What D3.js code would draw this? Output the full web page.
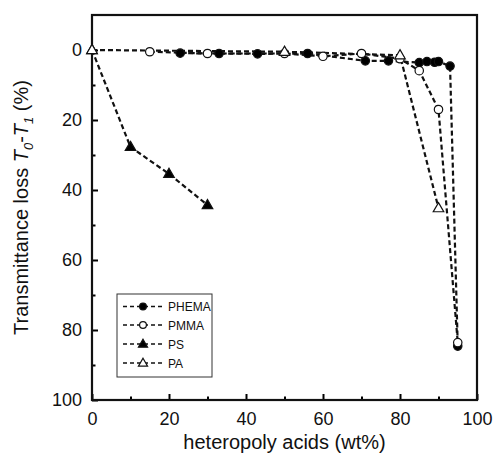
<!DOCTYPE html>
<html><head><meta charset="utf-8">
<script src="https://cdn.jsdelivr.net/npm/d3@7"></script>
<style>body{margin:0;background:#fff}svg{font-family:Arial,"Liberation Sans",sans-serif}</style>
</head><body>
<svg id="c" width="493" height="463"></svg>
<script>
const seriesNames = ["PHEMA","PMMA","PS","PA"];
const phemaX = [22.9,33,43,56,71,77,85,87,89,90,93,95];
const phemaY = [0.9,1,1.1,1,3.1,3.1,3.6,3.3,3.5,3.3,4.6,84.6];
const pmmaX = [15,30,50,60,70,80,85,90,95];
const pmmaY = [0.5,1,1,1.8,1,2.5,5.9,17,83.6];
const psX = [0,10,20,30];
const psY = [0,27.7,35.4,44.3];
const paX = [0,50,80,90];
const paY = [0,0.5,1.5,45.2];
const xTicks = [0,20,40,60,80,100];
const yTicks = [0,20,40,60,80,100];

const svg = d3.select("#c");
const L=92,R=477,T=15,B=400;
const x = d3.scaleLinear().domain([0,100]).range([L,R]);
const y = d3.scaleLinear().domain([-10,100]).range([T,B]);

const xAxis = d3.axisBottom(x).tickValues(d3.range(0,101,10)).tickSize(-6).tickFormat(d=>xTicks.includes(d)?d:"").tickPadding(12);
const gx = svg.append("g").attr("transform",`translate(0,${B})`).call(xAxis);
gx.selectAll(".tick line").attr("y2",d=>xTicks.includes(d)?-6:-3.5).attr("stroke-width",2);
gx.select(".domain").remove();
gx.selectAll("text").attr("font-size",18).attr("font-family","Arial,'Liberation Sans',sans-serif").attr("fill","#111");

const yAxis = d3.axisLeft(y).tickValues(d3.range(0,101,10)).tickSize(-6).tickFormat(d=>yTicks.includes(d)?d:"").tickPadding(10);
const gy = svg.append("g").attr("transform",`translate(${L},0)`).call(yAxis);
gy.selectAll(".tick line").attr("x2",d=>yTicks.includes(d)?6:3.5).attr("stroke-width",2);
gy.select(".domain").remove();
gy.selectAll("text").attr("font-size",18).attr("font-family","Arial,'Liberation Sans',sans-serif").attr("fill","#111");

svg.append("rect").attr("x",L).attr("y",T).attr("width",R-L).attr("height",B-T)
  .attr("fill","none").attr("stroke","#111").attr("stroke-width",2.2);

svg.append("text").attr("x",(L+R)/2).attr("y",449).attr("text-anchor","middle")
  .attr("font-size",20).attr("fill","#111").text("heteropoly acids (wt%)");
const yt = svg.append("text").attr("transform",`translate(28,${(T+B)/2}) rotate(-90)`)
  .attr("text-anchor","middle").attr("font-size",20).attr("fill","#111");
yt.append("tspan").text("Transmittance loss ");
yt.append("tspan").attr("font-style","italic").text("T");
yt.append("tspan").attr("font-size",13).attr("font-style","italic").attr("dy",5).text("0");
yt.append("tspan").attr("dy",-5).text("-");
yt.append("tspan").attr("font-style","italic").text("T");
yt.append("tspan").attr("font-size",13).attr("font-style","italic").attr("dy",5).text("1");
yt.append("tspan").attr("dy",-5).text(" (%)");

const data = [
  {name:seriesNames[0], xs:phemaX, ys:phemaY, shape:"circle", fill:"#000"},
  {name:seriesNames[1], xs:pmmaX, ys:pmmaY, shape:"circle", fill:"#fff"},
  {name:seriesNames[2], xs:psX, ys:psY, shape:"tri", fill:"#000"},
  {name:seriesNames[3], xs:paX, ys:paY, shape:"tri", fill:"#fff"}
];
const line = d3.line().x(d=>x(d[0])).y(d=>y(d[1]));
function marker(g, shape, fill, cx, cy, s, ts){
  if(shape==="circle"){
    g.append("circle").attr("cx",cx).attr("cy",cy).attr("r",s)
      .attr("fill",fill).attr("stroke","#111").attr("stroke-width",1.2);
  } else {
    const sym = d3.symbol().type(d3.symbolTriangle).size(ts);
    g.append("path").attr("d",sym()).attr("transform",`translate(${cx},${cy+0.5})`)
      .attr("fill",fill).attr("stroke","#111").attr("stroke-width",1.2);
  }
}
data.forEach(s=>{
  const pts = s.xs.map((v,i)=>[v,s.ys[i]]);
  svg.append("path").attr("d",line(pts)).attr("fill","none").attr("stroke","#111")
    .attr("stroke-width",2.2).attr("stroke-dasharray","5,3");
});
data.forEach(s=>{
  const g = svg.append("g");
  s.xs.forEach((v,i)=>marker(g,s.shape,s.fill,x(v),y(s.ys[i]),4.2,48));
});

const lg = svg.append("g");
lg.append("rect").attr("x",117).attr("y",294).attr("width",95).attr("height",83)
  .attr("fill","#fff").attr("stroke","#333").attr("stroke-width",1);
const rows=[306.5,325,344,363];
data.forEach((s,i)=>{
  lg.append("line").attr("x1",123).attr("x2",164).attr("y1",rows[i]).attr("y2",rows[i])
    .attr("stroke","#111").attr("stroke-width",1.6).attr("stroke-dasharray","4,3");
  marker(lg,s.shape,s.fill,143,rows[i],3.4,36);
  lg.append("text").attr("x",168).attr("y",rows[i]+4.5).attr("font-size",12).attr("fill","#111").text(s.name);
});
</script>
</body></html>
